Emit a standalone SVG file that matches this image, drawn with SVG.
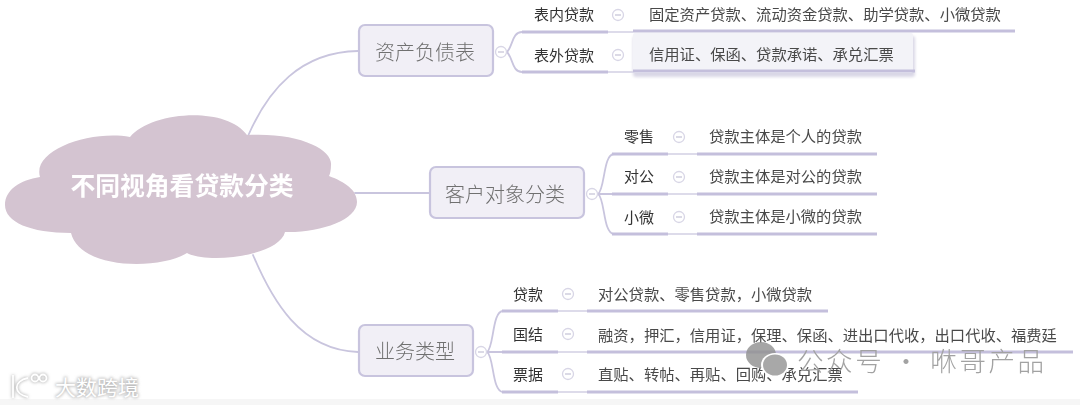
<svg xmlns="http://www.w3.org/2000/svg" width="1080" height="405" viewBox="0 0 1080 405">
<defs>
<filter id="soft" x="-5%" y="-20%" width="110%" height="140%"><feGaussianBlur stdDeviation="0.45"/></filter>
<filter id="shadow" x="-5%" y="-20%" width="110%" height="140%"><feGaussianBlur stdDeviation="1.5"/></filter>
<filter id="glow" x="-20%" y="-40%" width="140%" height="180%"><feGaussianBlur stdDeviation="1.6"/></filter>
</defs>
<style>
text{font-family:"Noto Sans CJK SC","Noto Sans",sans-serif}
.c{fill:none;stroke:#c9c5de;stroke-width:1.8;stroke-linecap:round}
.u{fill:none;stroke:#c4bfdc;stroke-width:3}
.t{fill:none;stroke:#d2cfe4;stroke-width:1.6}
.box{fill:#f1eff6;stroke:#c8c4de;stroke-width:2.2}
.main{font-size:20px;fill:#6f6f6f;text-anchor:middle;font-weight:300}
.sub{font-size:15px;fill:#333;text-anchor:middle}
.leaf{font-size:15.3px;fill:#4a4a4a}
.tg{fill:#fff;stroke:#d8d6e6;stroke-width:1.3}
.tm{stroke:#c4c2d6;stroke-width:1.2}
.wm{fill:#8e8e8e;opacity:.8}
</style>
<rect width="1080" height="405" fill="#fff"/>
<rect y="399" width="1080" height="6" fill="#f6f6f6"/>
<g id="connectors">
<path class="c" d="M248 136C268 90 300 52 358 51"/>
<path class="c" d="M355 193H430"/>
<path class="c" d="M253 255C272 300 300 350 358 352"/>
<path class="c" d="M507 52C513 46 512 32 522 32M507 52C513 58 512 72 522 72"/>
<path class="t" d="M608 32H633M608 72H633"/>
<path class="u" d="M522 32H608M633 31H1015M522 72H608"/>
<path class="c" d="M598 194C605 190 603 154 614 154M598 194C605 198 603 234 614 234M598 194H612"/>
<path class="t" d="M668 154H697M668 194H697M668 234H697"/>
<path class="u" d="M612 154H668M697 154H877M612 194H668M697 194H877M612 234H668M697 234H877"/>
<path class="c" d="M487 352C494 348 492 311 503 311M487 352C494 356 492 392 503 392M487 352H502"/>
<path class="t" d="M558 311H587M558 352H587M558 392H587"/>
<path class="u" d="M502 311H558M587 311H828M502 352H558M587 352H1073M502 392H558M587 392H858"/>
</g>
<g id="root">
<path fill="#d4c4d1" d="M130 137C150 112 225 105 247 135C300 132 333 150 331 165C331 170 330 174 329 176C345 182 357 190 357 202C357 220 320 233 285 232C280 255 210 265 187 253C160 270 80 270 71 233C30 233 5 222 5 205C5 190 20 180 40 177C32 150 90 130 130 137Z"/>
<text x="182" y="195" font-size="24.8" font-weight="700" fill="#fff" text-anchor="middle" filter="url(#soft)">不同视角看贷款分类</text>
</g>
<g id="n-balance" filter="url(#soft)">
<rect class="box" x="359" y="25" width="134" height="51" rx="6"/>
<text class="main" x="425" y="60">资产负债表</text>
<circle class="tg" cx="501" cy="52" r="5.5"/><path class="tm" d="M498 52H504"/>
</g>
<g id="n-customer" filter="url(#soft)">
<rect class="box" x="430" y="167" width="154" height="51" rx="6"/>
<text class="main" x="505" y="202">客户对象分类</text>
<circle class="tg" cx="592" cy="194" r="5.5"/><path class="tm" d="M589 194H595"/>
</g>
<g id="n-business" filter="url(#soft)">
<rect class="box" x="359" y="325" width="114" height="51" rx="6"/>
<text class="main" x="415" y="359">业务类型</text>
<circle class="tg" cx="481" cy="352" r="5.5"/><path class="tm" d="M478 352H484"/>
</g>
<g id="b1" filter="url(#soft)">
<text class="sub" x="564" y="20">表内贷款</text>
<circle class="tg" cx="618" cy="15" r="5.5"/><path class="tm" d="M615 15H621"/>
<text class="leaf" x="649" y="20">固定资产贷款、流动资金贷款、助学贷款、小微贷款</text>
</g>
<g id="b2">
<rect x="633" y="36" width="282" height="41" rx="3" fill="#d9d7e6" filter="url(#shadow)"/>
<rect x="633" y="33" width="280" height="40" rx="2" fill="#f3f3f8"/>
<path class="u" d="M633 71H915"/>
<g filter="url(#soft)">
<text class="sub" x="564" y="61">表外贷款</text>
<circle class="tg" cx="618" cy="55" r="5.5"/><path class="tm" d="M615 55H621"/>
<text class="leaf" x="649" y="60">信用证、保函、贷款承诺、承兑汇票</text>
</g>
</g>
<g id="c1" filter="url(#soft)">
<text class="sub" x="639" y="142">零售</text>
<circle class="tg" cx="679" cy="137" r="5.5"/><path class="tm" d="M676 137H682"/>
<text class="leaf" x="709" y="142">贷款主体是个人的贷款</text>
</g>
<g id="c2" filter="url(#soft)">
<text class="sub" x="639" y="182">对公</text>
<circle class="tg" cx="679" cy="177" r="5.5"/><path class="tm" d="M676 177H682"/>
<text class="leaf" x="709" y="182">贷款主体是对公的贷款</text>
</g>
<g id="c3" filter="url(#soft)">
<text class="sub" x="639" y="223">小微</text>
<circle class="tg" cx="679" cy="217" r="5.5"/><path class="tm" d="M676 217H682"/>
<text class="leaf" x="709" y="222">贷款主体是小微的贷款</text>
</g>
<g id="d1" filter="url(#soft)">
<text class="sub" x="528" y="300">贷款</text>
<circle class="tg" cx="568" cy="294" r="5.5"/><path class="tm" d="M565 294H571"/>
<text class="leaf" x="598" y="300">对公贷款、零售贷款，小微贷款</text>
</g>
<g id="d2" filter="url(#soft)">
<text class="sub" x="528" y="340">国结</text>
<circle class="tg" cx="568" cy="334" r="5.5"/><path class="tm" d="M565 334H571"/>
<text class="leaf" x="598" y="341">融资，押汇，信用证，保理、保函、进出口代收，出口代收、福费廷</text>
</g>
<g id="d3" filter="url(#soft)">
<text class="sub" x="528" y="380">票据</text>
<circle class="tg" cx="568" cy="374" r="5.5"/><path class="tm" d="M565 374H571"/>
<text class="leaf" x="598" y="380">直贴、转帖、再贴、回购、承兑汇票</text>
</g>
<g id="watermark-right" filter="url(#soft)">
<ellipse class="wm" cx="761" cy="355" rx="15" ry="13"/>
<ellipse cx="775" cy="365" rx="14" ry="12" fill="#fff"/>
<ellipse cx="775" cy="365" rx="12" ry="10.5" fill="#a8a8a8"/>
<text x="797" y="371" font-size="26.5" fill="#a2a2a2" letter-spacing="2.6" font-weight="300">公众号 · 咻哥产品</text>
</g>
<g id="watermark-left">
<g filter="url(#glow)" fill="none" stroke="#bdbdbd" stroke-width="3">
<path d="M13 375V398M28 378C13 381 13 394 28 397"/>
<circle cx="35" cy="378" r="3.5"/><circle cx="43" cy="378" r="3.5"/>
<text x="55" y="395" font-size="21" stroke-width="1.5" fill="#bdbdbd">大数跨境</text>
</g>
<g fill="none" stroke="#fff" stroke-width="1.8">
<path d="M13 375V398M28 378C13 381 13 394 28 397"/>
<circle cx="35" cy="378" r="3.5"/><circle cx="43" cy="378" r="3.5"/>
</g>
<text x="55" y="395" font-size="21" fill="#fff">大数跨境</text>
</g>
</svg>
